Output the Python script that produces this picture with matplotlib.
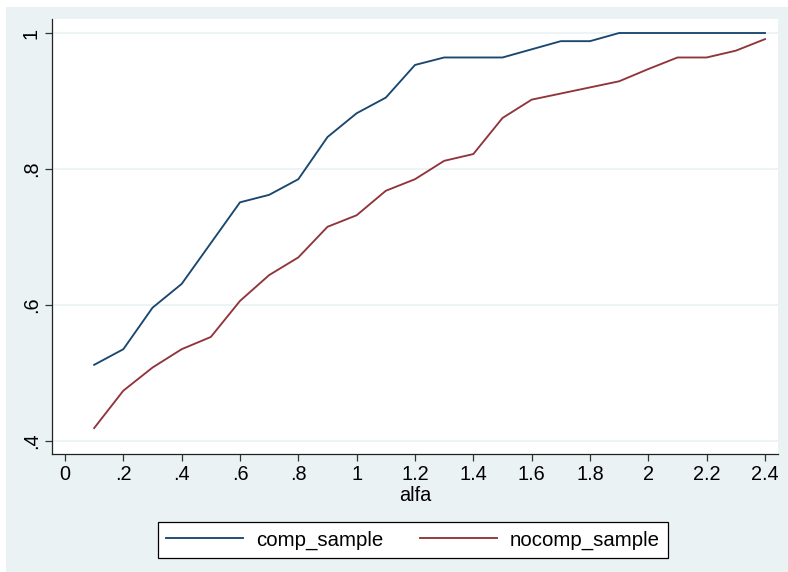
import matplotlib.pyplot as plt
from matplotlib.patches import Rectangle

alfa = [0.1, 0.2, 0.3, 0.4, 0.5, 0.6, 0.7, 0.8, 0.9, 1.0, 1.1, 1.2,
        1.3, 1.4, 1.5, 1.6, 1.7, 1.8, 1.9, 2.0, 2.1, 2.2, 2.3, 2.4]
comp_sample = [0.512, 0.535, 0.596, 0.631, 0.691, 0.751, 0.762, 0.785,
               0.847, 0.882, 0.905, 0.953, 0.964, 0.964, 0.964, 0.976,
               0.988, 0.988, 1.0, 1.0, 1.0, 1.0, 1.0, 1.0]
nocomp_sample = [0.419, 0.474, 0.508, 0.535, 0.553, 0.606, 0.644, 0.670,
                 0.715, 0.732, 0.768, 0.785, 0.812, 0.822, 0.875, 0.902,
                 0.911, 0.920, 0.929, 0.947, 0.964, 0.964, 0.974, 0.991]
xticks = [0, 0.2, 0.4, 0.6, 0.8, 1.0, 1.2, 1.4, 1.6, 1.8, 2.0, 2.2, 2.4]
xticklabels = ["0", ".2", ".4", ".6", ".8", "1", "1.2", "1.4", "1.6", "1.8", "2", "2.2", "2.4"]
yticks = [0.4, 0.6, 0.8, 1.0]
yticklabels = [".4", ".6", ".8", "1"]

plt.rcParams["font.family"] = ["Liberation Sans", "DejaVu Sans"]
bg = "#eaf2f3"
navy = "#1a476f"
maroon = "#90353b"

W, H = 788, 572
fig = plt.figure(figsize=(W / 100, H / 100), dpi=100, facecolor="white")
fig.patches.append(Rectangle((6 / W, 0), 1 - 6 / W, 1 - 7 / H, transform=fig.transFigure,
                             facecolor=bg, edgecolor="none", zorder=-10))

ax = fig.add_axes([52 / W, 1 - 454 / H, (778 - 52) / W, (454 - 19) / H])
ax.set_facecolor("white")
ax.plot(alfa, comp_sample, color=navy, lw=1.35, label="comp_sample")
ax.plot(alfa, nocomp_sample, color=maroon, lw=1.35, label="nocomp_sample")

ax.set_xlim(-13 / 291.67, 2.4 + 13 / 291.67)
ax.set_ylim(0.4 - 13 / 680, 1 + 14 / 680)
ax.set_xticks(xticks)
ax.set_xticklabels(xticklabels)
ax.set_yticks(yticks)
ax.set_yticklabels(yticklabels, rotation=90, va="center")
ax.tick_params(labelsize=14.3, length=5, width=0.9, color="#333333", pad=3)
ax.grid(axis="y", color=bg, lw=1.2)
ax.set_axisbelow(True)
for s in ["top", "right"]:
    ax.spines[s].set_visible(False)
for s in ["left", "bottom"]:
    ax.spines[s].set_color("#222222")
    ax.spines[s].set_linewidth(0.9)
ax.set_xlabel("alfa", fontsize=14.3, labelpad=1.5)

leg = fig.legend(loc="center", bbox_to_anchor=(413 / W, 1 - 540 / H), ncol=2,
                 fontsize=14.7, handlelength=3.75, handletextpad=0.65, columnspacing=1.8,
                 borderpad=0.42, fancybox=False, framealpha=1)
leg.get_frame().set_edgecolor("black")
leg.get_frame().set_linewidth(0.9)

fig.savefig("out.png", dpi=100, facecolor="white")
